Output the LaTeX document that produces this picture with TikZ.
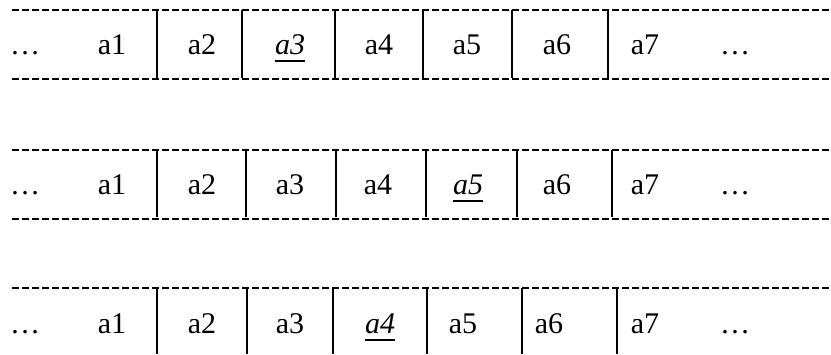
\documentclass[tikz,border=0pt]{standalone}
\usepackage{fontspec}
\setmainfont{Liberation Serif}
\usetikzlibrary{positioning}

\begin{document}
\begin{tikzpicture}[x=1pt, y=-1pt, font=\fontsize{30}{34}\selectfont,
        tapeline/.style={line width=1.8pt, dash pattern=on 6.5pt off 3.5pt},
        wall/.style={line width=2pt},
        cell/.style={anchor=base, inner sep=0pt},
        headcell/.style={cell, font=\fontsize{30}{34}\selectfont\itshape}
    ]
        \useasboundingbox (0,0) rectangle (831,354);
        % tape 1: head on a3
        \draw[tapeline] (12,10) -- (831,10);
        \draw[tapeline] (12,79) -- (831,79);
        \foreach \x in {157,242,335,423,512,608}
            \draw[wall] (\x,10) -- (\x,78);
        \node[cell] (ta0) at (25,54) {…};
        \foreach \x/\l/\n in {112/a1/1, 202/a2/2, 379/a4/4, 467/a5/5, 557/a6/6, 645/a7/7}
            \node[cell] (ta\n) at (\x,54) {\l};
        \node[headcell] (ta3) at (290,54) {a3};
        \node[cell] (ta8) at (735,54) {…};
        \draw[line width=1.6pt] ([yshift=-7pt]ta3.base west) -- ([yshift=-7pt]ta3.base east);

        % tape 2: head on a5
        \draw[tapeline] (12,150) -- (831,150);
        \draw[tapeline] (12,219) -- (831,219);
        \foreach \x in {157,246,336,426,517,612}
            \draw[wall] (\x,150) -- (\x,217);
        \node[cell] (tb0) at (25,194) {…};
        \foreach \x/\l/\n in {112/a1/1, 202/a2/2, 290/a3/3, 378/a4/4, 557/a6/6, 645/a7/7}
            \node[cell] (tb\n) at (\x,194) {\l};
        \node[headcell] (tb5) at (468,194) {a5};
        \node[cell] (tb8) at (735,194) {…};
        \draw[line width=1.6pt] ([yshift=-7pt]tb5.base west) -- ([yshift=-7pt]tb5.base east);

        % tape 3: head on a4
        \draw[tapeline] (12,288) -- (831,288);
        \foreach \x in {157,247,333,427,522,617}
            \draw[wall] (\x,288) -- (\x,354);
        \node[cell] (tc0) at (25,333) {…};
        \foreach \x/\l/\n in {112/a1/1, 202/a2/2, 290/a3/3, 463/a5/5, 549/a6/6, 645/a7/7}
            \node[cell] (tc\n) at (\x,333) {\l};
        \node[headcell] (tc4) at (380,333) {a4};
        \node[cell] (tc8) at (735,333) {…};
        \draw[line width=1.6pt] ([yshift=-7pt]tc4.base west) -- ([yshift=-7pt]tc4.base east);
    \end{tikzpicture}
\end{document}
